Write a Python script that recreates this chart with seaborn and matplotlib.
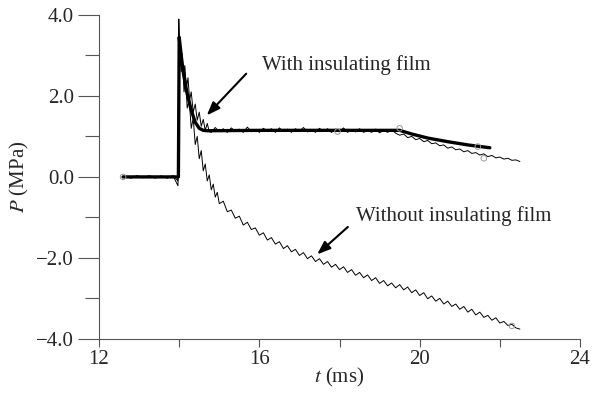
import numpy as np
import pandas as pd
import matplotlib
matplotlib.use("Agg")
import matplotlib.pyplot as plt
import seaborn as sns
from matplotlib.ticker import MultipleLocator, FuncFormatter

# pressure trace without insulating film (t in ms, P in MPa)
t_without = [12.65, 12.8, 12.95, 13.1, 13.25, 13.4, 13.55, 13.7, 13.85, 13.97,
             13.99, 14.02, 14.05, 14.08, 14.12, 14.16, 14.2, 14.25, 14.3, 14.35,
             14.4, 14.45, 14.5, 14.55, 14.6, 14.65, 14.7, 14.75, 14.8, 14.85,
             14.9, 14.95, 15.0,
             15.1, 15.2, 15.3, 15.4, 15.5, 15.6, 15.7, 15.8, 15.9, 16.0,
             16.1, 16.2, 16.3, 16.4, 16.5, 16.6, 16.7, 16.8, 16.9, 17.0,
             17.1, 17.2, 17.3, 17.4, 17.5, 17.6, 17.7, 17.8, 17.9, 18.0,
             18.1, 18.2, 18.3, 18.4, 18.5, 18.6, 18.7, 18.8, 18.9, 19.0,
             19.1, 19.2, 19.3, 19.4, 19.5, 19.6, 19.7, 19.8, 19.9, 20.0,
             20.1, 20.2, 20.3, 20.4, 20.5, 20.6, 20.7, 20.8, 20.9, 21.0,
             21.1, 21.2, 21.3, 21.4, 21.5, 21.6, 21.7, 21.8, 21.9, 22.0,
             22.1, 22.2, 22.3, 22.4, 22.5]
p_without = [0.0, -0.03, 0.02, -0.02, 0.03, -0.02, 0.02, -0.03, 0.02, -0.22,
             3.5, 3.3, 2.6, 2.9, 2.1, 2.4, 1.7, 1.9, 1.2, 1.45,
             0.8, 1.0, 0.45, 0.65, 0.15, 0.32, -0.1, 0.05, -0.32, -0.18,
             -0.5, -0.38, -0.66,
             -0.6, -0.86, -0.82, -1.02, -0.97, -1.19, -1.12, -1.3, -1.26, -1.44,
             -1.38, -1.56, -1.5, -1.66, -1.6, -1.77, -1.7, -1.85, -1.79, -1.94,
             -1.87, -2.02, -1.95, -2.09, -2.02, -2.16, -2.09, -2.23, -2.16, -2.29,
             -2.22, -2.36, -2.29, -2.43, -2.36, -2.49, -2.42, -2.56, -2.49, -2.63,
             -2.56, -2.69, -2.62, -2.74, -2.66, -2.79, -2.72, -2.86, -2.79, -2.93,
             -2.86, -3.01, -2.94, -3.07, -3.0, -3.14, -3.07, -3.2, -3.14, -3.27,
             -3.2, -3.34, -3.27, -3.41, -3.34, -3.47, -3.42, -3.54, -3.48, -3.61,
             -3.57, -3.67, -3.64, -3.73, -3.76]

# pressure trace with insulating film
t_with = [12.65, 12.8, 12.95, 13.1, 13.25, 13.4, 13.55, 13.7, 13.85, 13.97,
          13.99, 14.01, 14.04, 14.07, 14.1, 14.14, 14.18, 14.22, 14.26, 14.3,
          14.35, 14.4, 14.45, 14.5, 14.55, 14.6, 14.65, 14.7, 14.75,
          14.8, 14.9, 15.0, 15.1, 15.2, 15.3, 15.4, 15.5, 15.6, 15.7,
          15.8, 15.9, 16.0, 16.1, 16.2, 16.3, 16.4, 16.5, 16.6, 16.7,
          16.8, 16.9, 17.0, 17.1, 17.2, 17.3, 17.4, 17.5, 17.6, 17.7,
          17.8, 17.9, 18.0, 18.1, 18.2, 18.3, 18.4, 18.5, 18.6, 18.7,
          18.8, 18.9, 19.0, 19.1, 19.2, 19.3, 19.4,
          19.5, 19.6, 19.7, 19.8, 19.9, 20.0, 20.1, 20.2, 20.3, 20.4,
          20.5, 20.6, 20.7, 20.8, 20.9, 21.0, 21.1, 21.2, 21.3, 21.4,
          21.5, 21.6, 21.7, 21.8, 21.9, 22.0, 22.1, 22.2, 22.3, 22.4, 22.5]
p_with = [0.02, -0.02, 0.03, -0.02, 0.02, -0.03, 0.02, -0.02, 0.03, -0.1,
          3.9, 3.2, 2.8, 3.05, 2.5, 2.75, 2.2, 2.45, 1.9, 2.1,
          1.6, 1.8, 1.4, 1.6, 1.25, 1.42, 1.15, 1.32, 1.12,
          1.1, 1.22, 1.12, 1.19, 1.1, 1.21, 1.13, 1.18, 1.1, 1.23,
          1.12, 1.17, 1.1, 1.2, 1.13, 1.19, 1.1, 1.21, 1.12, 1.18,
          1.1, 1.19, 1.13, 1.22, 1.11, 1.17, 1.1, 1.2, 1.12, 1.19,
          1.1, 1.18, 1.12, 1.21, 1.1, 1.17, 1.11, 1.19, 1.1, 1.16,
          1.1, 1.18, 1.09, 1.15, 1.1, 1.17, 1.08,
          1.03, 1.06, 0.97, 1.0, 0.92, 0.95, 0.87, 0.9, 0.82, 0.84,
          0.77, 0.79, 0.71, 0.74, 0.67, 0.69, 0.62, 0.65, 0.58, 0.6,
          0.54, 0.57, 0.5, 0.53, 0.47, 0.49, 0.44, 0.46, 0.41, 0.42, 0.38]

# smooth calculated curve (with film)
t_fit = [12.6, 13.98, 14.0, 14.05, 14.1, 14.2, 14.3, 14.4, 14.5, 14.6,
         14.7, 16.0, 18.0, 19.5, 19.8, 20.2, 20.7, 21.2, 21.75]
p_fit = [0.0, 0.0, 3.45, 3.0, 2.6, 2.05, 1.65, 1.35, 1.2, 1.15,
         1.14, 1.15, 1.15, 1.15, 1.06, 0.96, 0.87, 0.79, 0.72]

# open circle markers
t_marks = [12.6, 17.95, 19.5, 21.45, 21.6, 22.3]
p_marks = [0.0, 1.12, 1.2, 0.75, 0.46, -3.68]

x_major = [12, 16, 20, 24]
x_minor = [14, 18, 22]

sns.set_style("ticks")
plt.rcParams['font.family'] = ['Liberation Serif', 'DejaVu Serif']
plt.rcParams['mathtext.fontset'] = 'stix'

fig, ax = plt.subplots(figsize=(6.02, 3.94), dpi=100)
fig.subplots_adjust(left=0.1645, right=0.9635, bottom=0.14, top=0.962)

df_without = pd.DataFrame({'t': t_without, 'P': p_without})
df_with = pd.DataFrame({'t': t_with, 'P': p_with})
df_fit = pd.DataFrame({'t': t_fit, 'P': p_fit})

sns.lineplot(data=df_without, x='t', y='P', ax=ax, color='black', lw=0.7,
             sort=False, estimator=None)
sns.lineplot(data=df_with, x='t', y='P', ax=ax, color='black', lw=0.7,
             sort=False, estimator=None)
sns.lineplot(data=df_fit, x='t', y='P', ax=ax, color='black', lw=2.4,
             sort=False, estimator=None)
ax.scatter(t_marks, p_marks, s=16, facecolors='none', edgecolors='#999999',
           linewidths=0.7, zorder=3)

ax.set_xlim(12, 24)
ax.set_ylim(-4, 4)
ax.set_xticks(x_major)
ax.set_xticks(x_minor, minor=True)
ax.yaxis.set_major_locator(MultipleLocator(2))
ax.yaxis.set_minor_locator(MultipleLocator(1))
ax.yaxis.set_major_formatter(FuncFormatter(lambda v, pos: f'{v:.1f}'.replace('-', '\u2212')))

for side in ['top', 'right']:
    ax.spines[side].set_visible(False)
for side in ['left', 'bottom']:
    ax.spines[side].set_color('#555555')
    ax.spines[side].set_linewidth(0.8)

ax.tick_params(axis='x', which='both', direction='out', length=6, width=0.8,
               color='#555555', labelsize=15, pad=2)
ax.tick_params(axis='y', which='major', direction='out', length=15, width=0.8,
               color='#555555', labelsize=15, pad=3)
ax.tick_params(axis='y', which='minor', direction='out', length=10, width=0.8,
               color='#555555')

ax.set_xlabel('$t$ (ms)', fontsize=15, labelpad=-2)
ax.set_ylabel('$P$ (MPa)', fontsize=15, labelpad=4)

ax.text(16.07, 2.77, 'With insulating film', fontsize=15, va='center', ha='left')
ax.annotate('', xy=(14.64, 1.47), xytext=(15.72, 2.60),
            arrowprops=dict(arrowstyle='-|>,head_length=0.8,head_width=0.3',
                            color='black', lw=1.5))
ax.text(18.41, -0.97, 'Without insulating film', fontsize=15, va='center', ha='left')
ax.annotate('', xy=(17.39, -1.96), xytext=(18.26, -1.19),
            arrowprops=dict(arrowstyle='-|>,head_length=0.8,head_width=0.3',
                            color='black', lw=1.5))

plt.savefig('out.png', dpi=100)
plt.close()
